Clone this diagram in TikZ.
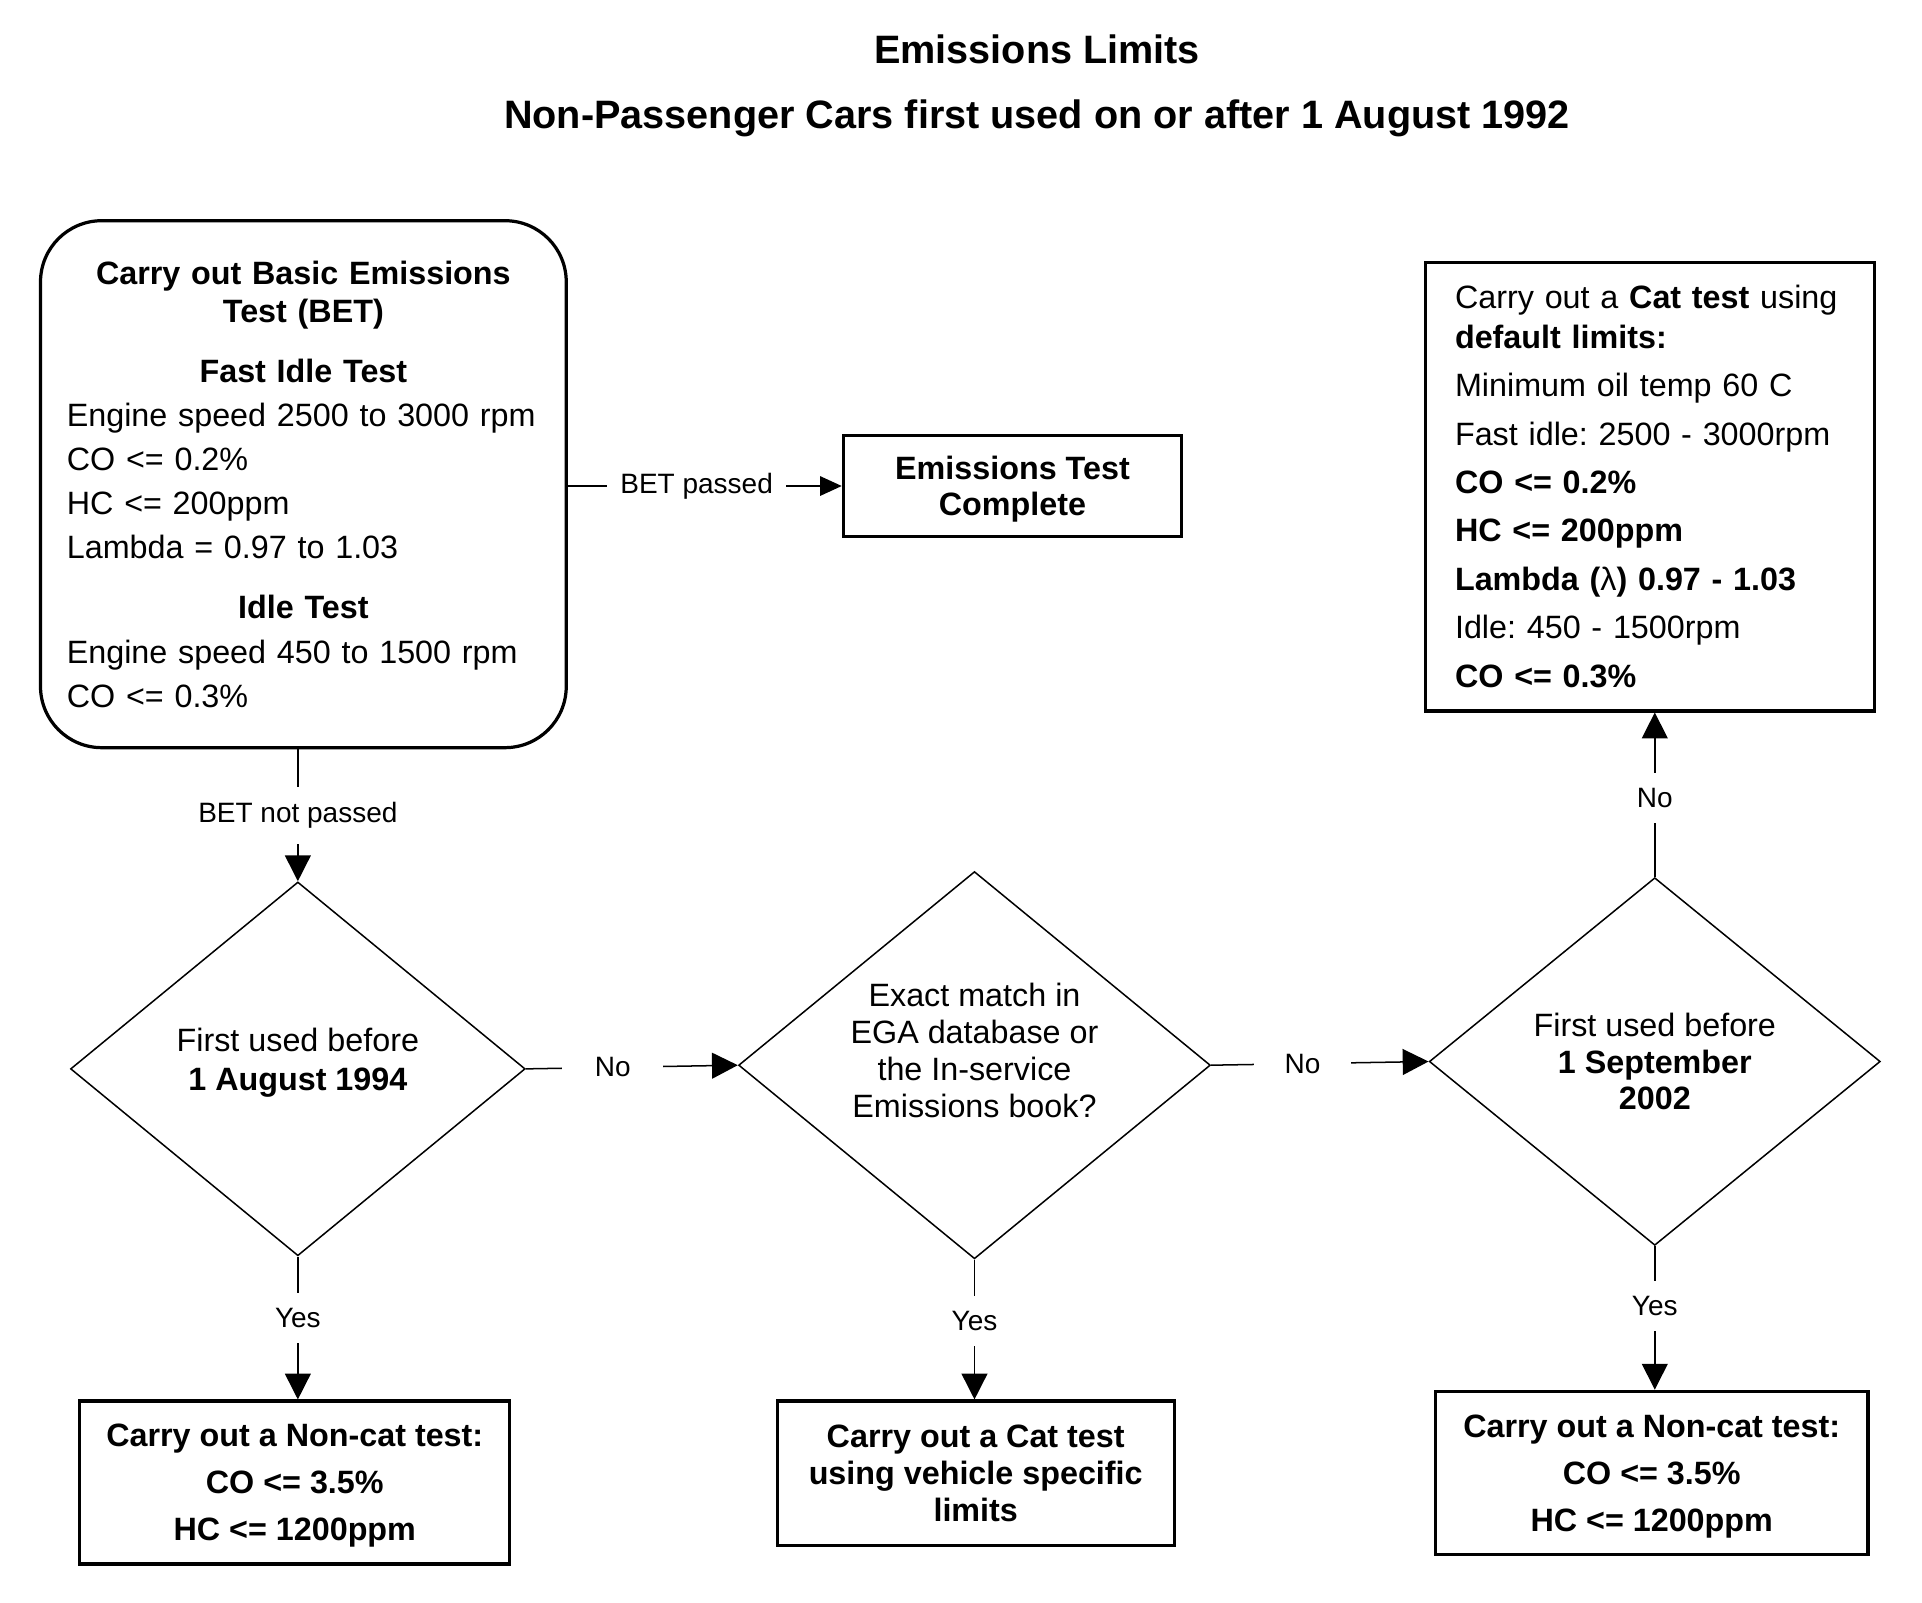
\documentclass[tikz,border=0pt]{standalone}
\usepackage{fontspec}
\setmainfont{Liberation Sans}
\usetikzlibrary{arrows.meta,shapes.geometric}
\frenchspacing

\begin{document}
\begin{tikzpicture}[x=0.02cm,y=-0.02cm,font=\fontsize{15}{18}\selectfont,
      box/.style={draw,line width=1.5pt,inner sep=0pt},
      dec/.style={draw,diamond,aspect=1.22,line width=0.7pt,inner sep=0pt,
                  align=center},
      lbl/.style={fill=white,font=\fontsize{13}{15}\selectfont,inner ysep=0.25cm,
                  inner xsep=0.1cm},
      arr/.style={line width=0.7pt,-{Triangle[length=12pt,width=12pt]}},
      ttl/.style={font=\fontsize{18.4}{22}\selectfont\bfseries,anchor=base}]
    \useasboundingbox (0,0) rectangle (1568,1307);
    \node[ttl] (title) at (846,51.5) {Emissions Limits};
    \node[ttl] (subtitle) at (846,104.5)
      {Non-Passenger Cars first used on or after 1 August 1992};
    % top row
    \node[box,rounded corners=1cm,minimum width=8.58cm,minimum height=8.6cm,
          text width=7.72cm,font=\fontsize{15}{20.5}\selectfont] (bet) at (247.5,395)
      {{\centering\bfseries Carry out Basic Emissions\\[-2.9pt] Test (BET)\par}
       \vspace{7.4pt}
       {\centering\bfseries Fast Idle Test\par}
       Engine speed 2500 to 3000 rpm\\
       CO <= 0.2\%\\
       HC <= 200ppm\\
       Lambda = 0.97 to 1.03\par
       \vspace{7.4pt}
       {\centering\bfseries Idle Test\par}
       Engine speed 450 to 1500 rpm\\
       CO <= 0.3\%};
    \node[box,minimum width=5.52cm,minimum height=1.66cm,align=center,text depth=0pt,
          font=\fontsize{15}{16.5}\selectfont\bfseries] (etc) at (826,396.5)
      {Emissions Test\\Complete};
    \node[box,minimum width=7.32cm,minimum height=7.32cm,text width=6.36cm,
          font=\fontsize{15}{22.5}\selectfont] (cat) at (1346,397)
      {Carry out a \textbf{Cat test} using\\[-4.3pt]
       \textbf{default limits:}\\
       Minimum oil temp 60 C\\
       Fast idle: 2500 - 3000rpm\\
       \textbf{CO <= 0.2\%}\\
       \textbf{HC <= 200ppm}\\
       \textbf{Lambda ({\mdseries λ}) 0.97 - 1.03}\\
       Idle: 450 - 1500rpm\\
       \textbf{CO <= 0.3\%}};
    % decisions
    \node[dec,minimum width=7.42cm,minimum height=6.1cm,text depth=0.31cm] (d1)
      at (243,872) {First used before\\\textbf{1 August 1994}};
    \node[dec,minimum width=7.7cm,minimum height=6.32cm,text depth=0.5cm,
          font=\fontsize{15}{17.2}\selectfont] (d2) at (795,869)
      {Exact match in\\EGA database or\\the In-service\\Emissions book?};
    \node[dec,minimum width=7.36cm,minimum height=6cm,
          font=\fontsize{15}{17}\selectfont] (d3) at (1350,866)
      {First used before\\\textbf{1 September}\\\textbf{2002}};
    % bottom row
    \node[box,minimum width=7.02cm,minimum height=2.66cm,align=center,
          text depth=-0.15cm,font=\fontsize{15}{21.8}\selectfont\bfseries] (nc1)
      at (240.5,1209.5) {Carry out a Non-cat test:\\CO <= 3.5\%\\HC <= 1200ppm};
    \node[box,minimum width=6.48cm,minimum height=2.36cm,align=center,
          font=\fontsize{15}{17}\selectfont\bfseries] (cat2) at (796,1202)
      {Carry out a Cat test\\using vehicle specific\\limits};
    \node[box,minimum width=7.06cm,minimum height=2.66cm,align=center,text depth=0pt,
          font=\fontsize{15}{21.8}\selectfont\bfseries] (nc2) at (1347.5,1201.5)
      {Carry out a Non-cat test:\\CO <= 3.5\%\\HC <= 1200ppm};
    % connectors
    \draw[arr,-{Triangle[length=10pt,width=9pt]}] (bet.east |- etc.west)
      -- node[lbl,pos=0.47,inner xsep=0.21cm]{BET passed} (etc.west);
    \draw[arr] (bet.south -| d1.north) -- node[lbl]{BET not passed} (d1.north);
    \draw[arr] (d1.east) -- node[lbl,pos=0.41,inner xsep=0.53cm]{No} (d2.west);
    \draw[arr] (d2.east) -- node[lbl,pos=0.42,inner xsep=0.5cm]{No} (d3.west);
    \draw[arr] (d3.north) -- node[lbl,pos=0.48]{No} (d3.north |- cat.south);
    \draw[arr] (d1.south) -- node[lbl,pos=0.43]{Yes} (d1.south |- nc1.north);
    \draw[arr] (d2.south) -- node[lbl,pos=0.44]{Yes} (d2.south |- cat2.north);
    \draw[arr] (d3.south) -- node[lbl,pos=0.42]{Yes} (d3.south |- nc2.north);
  \end{tikzpicture}
\end{document}
